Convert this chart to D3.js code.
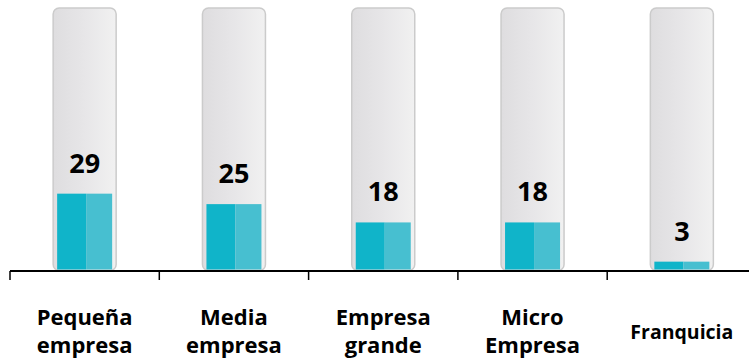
<!DOCTYPE html>
<html><head><meta charset="utf-8">
<script src="https://cdn.jsdelivr.net/npm/d3@7"></script>
<style>body{margin:0;background:#fff}svg{display:block}</style>
</head><body>
<svg id="c" width="749" height="361"></svg>
<script>
const categories = [["Pequeña","empresa"],["Media","empresa"],["Empresa","grande"],["Micro","Empresa"],["Franquicia"]];
const values = [29, 25, 18, 18, 3];
const maxValue = 100;

const svg = d3.select("#c");
const W = 749;
const x = d3.scaleBand().domain(d3.range(values.length)).range([10, 10 + 5 * 149.3]).padding(0);
const y = d3.scaleLinear().domain([0, maxValue]).range([269.5, 8]);
const font = "'Open Sans', sans-serif";

const defs = svg.append("defs");
const g1 = defs.append("linearGradient").attr("id","tube").attr("x1","0").attr("x2","1").attr("y1","0").attr("y2","0");
g1.append("stop").attr("offset","0").attr("stop-color","#dedddf");
g1.append("stop").attr("offset","0.5").attr("stop-color","#e7e6e8");
g1.append("stop").attr("offset","1").attr("stop-color","#f1f1f1");

const tubeW = 63, barW = 55;
const grp = svg.append("g").selectAll("g").data(values).join("g")
  .attr("transform", (d,i) => `translate(${x(i) + x.bandwidth()/2},0)`);

grp.append("rect")
  .attr("x", -tubeW/2).attr("y", y(maxValue))
  .attr("width", tubeW).attr("height", y(0) + 1 - y(maxValue))
  .attr("rx", 6).attr("fill", "url(#tube)")
  .attr("stroke", "#cbcbcb").attr("stroke-width", 1.5);

grp.append("rect")
  .attr("x", -barW/2).attr("y", d => y(d))
  .attr("width", barW/2 + 1.5).attr("height", d => y(0) - y(d))
  .attr("fill", "#10b4c9");
grp.append("rect")
  .attr("x", 1.5).attr("y", d => y(d))
  .attr("width", barW/2 - 1.5).attr("height", d => y(0) - y(d))
  .attr("fill", "#47bfd0");

grp.append("text")
  .attr("x", 0).attr("y", d => y(d) - 21)
  .attr("text-anchor", "middle")
  .attr("font-family", font).attr("font-weight", 700).attr("font-size", 27)
  .attr("fill", "#000")
  .text(d => d);

// axis
const axis = svg.append("g");
axis.append("line").attr("x1", 10).attr("x2", W).attr("y1", 271).attr("y2", 271)
  .attr("stroke", "#000").attr("stroke-width", 2);
axis.selectAll("line.t").data(d3.range(values.length)).join("line").attr("class","t")
  .attr("x1", i => x(i)).attr("x2", i => x(i))
  .attr("y1", 271).attr("y2", 280)
  .attr("stroke", "#000").attr("stroke-width", 1.5);

const labels = svg.append("g").selectAll("text").data(categories).join("text")
  .attr("x", (d,i) => x(i) + x.bandwidth()/2)
  .attr("text-anchor", "middle")
  .attr("font-family", font).attr("font-weight", 700)
  .attr("font-size", d => d.length === 1 ? 19.5 : 22)
  .attr("fill", "#000");
labels.each(function(d){
  const t = d3.select(this);
  if (d.length === 1) {
    t.append("tspan").attr("x", t.attr("x")).attr("y", 339).text(d[0]);
  } else {
    d.forEach((s, k) => t.append("tspan").attr("x", t.attr("x")).attr("y", 325 + k * 28).text(s));
  }
});
</script>
</body></html>
